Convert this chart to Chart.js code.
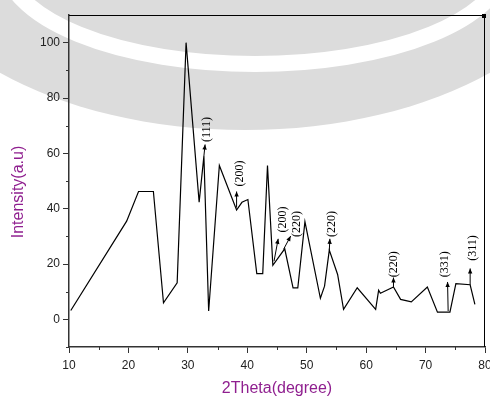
<!DOCTYPE html>
<html>
<head>
<meta charset="utf-8">
<script src="https://cdn.jsdelivr.net/npm/chart.js@4.4.0/dist/chart.umd.min.js"></script>
<style>
  html, body { margin: 0; padding: 0; background: #fff; }
  #wrap { width: 490px; height: 397px; position: relative; }
</style>
</head>
<body>
<div id="wrap"><canvas id="xrd"></canvas></div>
<script>
// XRD pattern (2theta in degree, intensity a.u.)
const twoTheta = [10.3, 19.7, 21.7, 24.2, 25.9, 28.2, 29.7, 31.9, 32.7, 33.5,
  35.3, 38.2, 39.1, 40.1, 41.6, 42.6, 43.4, 44.3, 46.3, 47.7,
  48.5, 49.7, 52.3, 53.0, 53.8, 55.2, 56.2, 58.5, 61.6, 62.1,
  62.4, 64.6, 65.8, 67.6, 70.3, 72.0, 74.1, 75.1, 77.5, 78.3];
const intensity = [3.2, 35.5, 46.2, 46.2, 6.0, 13.2, 100, 42.3, 59.0, 3.0,
  55.6, 39.5, 42.3, 43.3, 16.5, 16.5, 55.6, 19.5, 25.5, 11.4,
  11.4, 35.3, 7.6, 12.0, 25.0, 16.2, 3.6, 11.4, 3.6, 10.5,
  9.4, 11.7, 7.2, 6.3, 11.7, 2.6, 2.6, 12.9, 12.5, 5.4];

// axis ticks
const xTicks = [10, 20, 30, 40, 50, 60, 70, 80];
const xMinor = [15, 25, 35, 45, 55, 65, 75];
const yTicks = [0, 20, 40, 60, 80, 100];
const yMinor = [-10, 10, 30, 50, 70, 90];

// peak annotations (data units): arrow tail, arrow head, label centre
const peakNames = ["(111)", "(200)", "(200)", "(220)", "(220)", "(220)", "(331)", "(311)"];
const arrowFrom = [[32.7, 59], [38.2, 40.4], [44.5, 21.0], [46.1, 25.3], [53.8, 25.0], [64.6, 11.7], [73.8, 3.0], [77.5, 12.5]];
const arrowTo = [[32.9, 63.2], [38.2, 46.2], [45.2, 29.1], [47.3, 30.1], [53.9, 29.1], [64.6, 15.1], [73.7, 13.5], [77.5, 18.4]];
const labelAt = [[33.2, 68.6], [38.8, 52.7], [46.0, 36.1], [48.4, 34.5], [54.3, 34.5], [64.7, 19.9], [73.2, 19.9], [78.0, 25.8]];

const purple = "#8f1f8f";
const sans = "'Liberation Sans', Arial, sans-serif";

// grey logo watermark sitting behind the scan
const watermark = {
  id: "watermark",
  beforeDraw(chart) {
    const ctx = chart.ctx;
    ctx.save();
    ctx.fillStyle = "#dcdcdc";
    ctx.beginPath();
    ctx.ellipse(245, -70, 350, 200, 0, 0, Math.PI * 2);
    ctx.fill();
    ctx.strokeStyle = "#ffffff";
    ctx.lineWidth = 16;
    ctx.beginPath();
    ctx.ellipse(255, -38, 250, 102, 0, 0, Math.PI);
    ctx.stroke();
    ctx.restore();
  }
};

// frame, minor ticks, axis titles, peak arrows + labels
const decorations = {
  id: "decorations",
  afterDraw(chart) {
    const ctx = chart.ctx;
    const x = chart.scales.x, y = chart.scales.y;
    const a = chart.chartArea;
    ctx.save();

    // top + right frame
    ctx.strokeStyle = "#000";
    ctx.lineWidth = 1;
    ctx.beginPath();
    ctx.moveTo(a.left, a.top + 0.5);
    ctx.lineTo(a.right, a.top + 0.5);
    ctx.moveTo(a.right - 0.5, a.top);
    ctx.lineTo(a.right - 0.5, a.bottom);
    ctx.stroke();
    ctx.fillStyle = "#000";
    ctx.fillRect(a.right - 3, a.top - 1, 4, 4);

    // minor ticks
    ctx.strokeStyle = "#333";
    ctx.lineWidth = 1;
    ctx.beginPath();
    xMinor.forEach(v => {
      const px = Math.round(x.getPixelForValue(v)) + 0.5;
      ctx.moveTo(px, a.bottom);
      ctx.lineTo(px, a.bottom + 3);
    });
    yMinor.forEach(v => {
      const py = Math.round(y.getPixelForValue(v)) + 0.5;
      ctx.moveTo(a.left, py);
      ctx.lineTo(a.left - 3, py);
    });
    ctx.stroke();

    // axis titles
    ctx.fillStyle = purple;
    ctx.font = "16px " + sans;
    ctx.textAlign = "center";
    ctx.textBaseline = "middle";
    ctx.fillText("2Theta(degree)", (a.left + a.right) / 2, 389);
    ctx.translate(19, 192);
    ctx.rotate(-Math.PI / 2);
    ctx.fillText("Intensity(a.u)", 0, 0);
    ctx.setTransform(1, 0, 0, 1, 0, 0);

    // peak arrows
    ctx.strokeStyle = "#000";
    ctx.fillStyle = "#000";
    ctx.lineWidth = 1;
    peakNames.forEach((name, i) => {
      const x0 = x.getPixelForValue(arrowFrom[i][0]), y0 = y.getPixelForValue(arrowFrom[i][1]);
      const x1 = x.getPixelForValue(arrowTo[i][0]), y1 = y.getPixelForValue(arrowTo[i][1]);
      const ang = Math.atan2(y1 - y0, x1 - x0);
      ctx.beginPath();
      ctx.moveTo(x0, y0);
      ctx.lineTo(x1, y1);
      ctx.stroke();
      ctx.beginPath();
      ctx.moveTo(x1, y1);
      ctx.lineTo(x1 - 5 * Math.cos(ang) + 2.2 * Math.sin(ang), y1 - 5 * Math.sin(ang) - 2.2 * Math.cos(ang));
      ctx.lineTo(x1 - 5 * Math.cos(ang) - 2.2 * Math.sin(ang), y1 - 5 * Math.sin(ang) + 2.2 * Math.cos(ang));
      ctx.closePath();
      ctx.fill();

      const lx = x.getPixelForValue(labelAt[i][0]), ly = y.getPixelForValue(labelAt[i][1]);
      ctx.save();
      ctx.translate(lx, ly);
      ctx.rotate(-Math.PI / 2);
      ctx.font = "12px 'Liberation Serif', 'Times New Roman', serif";
      ctx.textAlign = "center";
      ctx.textBaseline = "middle";
      ctx.fillText(name, 0, 0);
      ctx.restore();
    });
    ctx.restore();
  }
};

new Chart(document.getElementById("xrd"), {
  type: "line",
  data: {
    datasets: [{
      data: twoTheta.map((t, i) => ({ x: t, y: intensity[i] })),
      borderColor: "#000",
      borderWidth: 1.2,
      pointRadius: 0,
      tension: 0,
      fill: false
    }]
  },
  options: {
    responsive: true,
    maintainAspectRatio: false,
    animation: false,
    events: [],
    layout: { padding: { top: 15, right: 5, left: 0, bottom: 0 } },
    plugins: { legend: { display: false }, tooltip: { enabled: false } },
    scales: {
      x: {
        type: "linear",
        min: 10,
        max: 80,
        afterBuildTicks: s => { s.ticks = xTicks.map(v => ({ value: v })); },
        afterFit: s => { s.height = 50; s.paddingLeft = 0; s.paddingRight = 0; },
        grid: { drawOnChartArea: false, drawTicks: true, tickLength: 6, color: "#333", lineWidth: 1 },
        border: { display: true, color: "#333", width: 1.5 },
        ticks: {
          color: "#222",
          padding: 5,
          maxRotation: 0,
          font: { family: sans, size: 12 }
        }
      },
      y: {
        type: "linear",
        min: -10,
        max: 110,
        afterBuildTicks: s => { s.ticks = yTicks.map(v => ({ value: v })); },
        afterFit: s => { s.width = 69; s.paddingTop = 0; s.paddingBottom = 0; },
        grid: { drawOnChartArea: false, drawTicks: true, tickLength: 6, color: "#333", lineWidth: 1 },
        border: { display: true, color: "#333", width: 1.5 },
        ticks: {
          color: "#222",
          padding: 3,
          font: { family: sans, size: 12 }
        }
      }
    }
  },
  plugins: [watermark, decorations]
});
</script>
</body>
</html>
